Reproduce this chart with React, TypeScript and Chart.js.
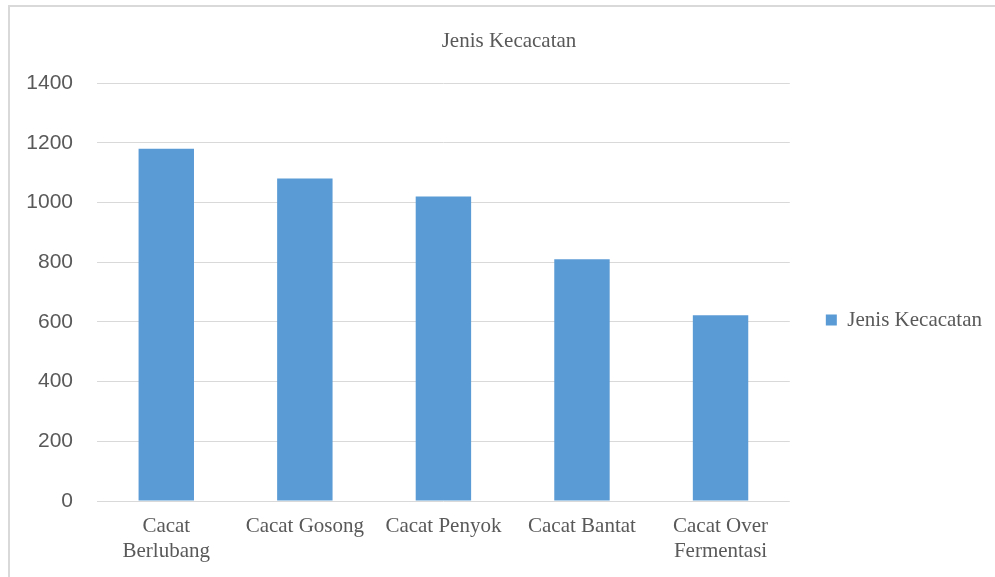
import React, { useEffect, useRef } from "react";
import { Chart, registerables } from "chart.js";

Chart.register(...registerables);

const categories: (string | string[])[] = [
  ["Cacat", "Berlubang"],
  "Cacat Gosong",
  "Cacat Penyok",
  "Cacat Bantat",
  ["Cacat Over", "Fermentasi"],
];
const seriesName = "Jenis Kecacatan";
const seriesValues = [1180, 1080, 1020, 810, 622];
const yMin = 0;
const yMax = 1400;
const yStep = 200;

const SERIF = "'Liberation Serif', 'Times New Roman', serif";
const SANS = "'Liberation Sans', Arial, sans-serif";
const TEXT = "#595959";
const GRID = "#d9d9d9";
const BAR = "#5b9bd5";

export default function App() {
  const ref = useRef<HTMLCanvasElement | null>(null);
  useEffect(() => {
    if (!ref.current) return;
    const chart = new Chart(ref.current, {
      type: "bar",
      data: {
        labels: categories,
        datasets: [
          {
            label: seriesName,
            data: seriesValues,
            backgroundColor: BAR,
            borderWidth: 0,
            barPercentage: 0.4,
            categoryPercentage: 1,
          },
        ],
      },
      options: {
        animation: false,
        responsive: true,
        maintainAspectRatio: false,
        layout: { padding: { left: 16, right: 3, top: 0, bottom: 0 } },
        plugins: {
          title: {
            display: true,
            text: seriesName,
            color: TEXT,
            font: { family: SERIF, size: 21, weight: "normal", lineHeight: 1.2 },
            padding: { top: 22, bottom: 28.8 },
          },
          legend: {
            display: true,
            position: "right",
            align: "center",
            title: {
              display: true,
              text: "",
              font: { size: 10, lineHeight: 1 },
              padding: { top: 0, bottom: 46 },
            },
            labels: {
              boxWidth: 11,
              boxHeight: 11,
              padding: 36,
              color: TEXT,
              font: { family: SERIF, size: 21, weight: "normal" },
            },
          },
          tooltip: { enabled: false },
        },
        scales: {
          x: {
            grid: { display: false, drawTicks: false },
            border: { display: false },
            ticks: {
              color: TEXT,
              font: { family: SERIF, size: 21, lineHeight: 1.2 },
              padding: 13,
              maxRotation: 0,
              autoSkip: false,
            },
            afterFit: (scale: any) => {
              scale.height = 76;
            },
          },
          y: {
            min: yMin,
            max: yMax,
            grid: { color: GRID, lineWidth: 1, drawTicks: false },
            border: { display: false },
            ticks: {
              stepSize: yStep,
              color: TEXT,
              font: { family: SANS, size: 21 },
              padding: 24,
              callback: (v: any) => String(v),
            },
            afterFit: (scale: any) => {
              scale.width = 71;
            },
          },
        },
      },
    });
    return () => chart.destroy();
  }, []);

  return (
    <div
      style={{
        position: "fixed",
        left: 8,
        top: 5,
        borderTop: `2px solid ${GRID}`,
        borderLeft: `2px solid ${GRID}`,
        background: "#fff",
      }}
    >
      <div style={{ position: "relative", width: 985, height: 570 }}>
        <canvas ref={ref} />
      </div>
    </div>
  );
}
